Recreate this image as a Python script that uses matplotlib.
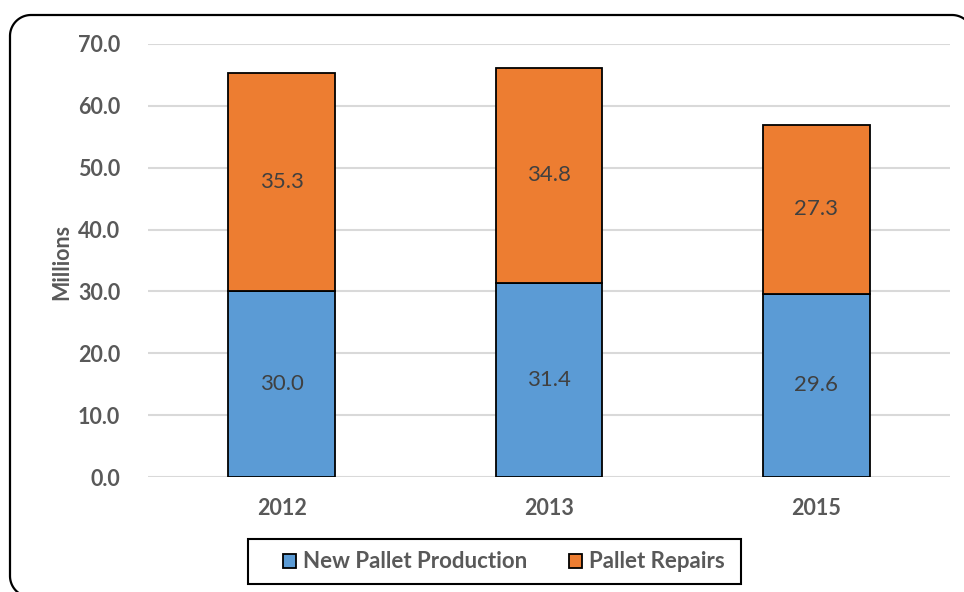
import matplotlib
matplotlib.use("Agg")
import matplotlib.pyplot as plt
from matplotlib.patches import Patch, Rectangle
from matplotlib.lines import Line2D
import numpy as np

years = ["2012", "2013", "2015"]
new_production = [30.0, 31.4, 29.6]
repairs = [35.3, 34.8, 27.3]
series_names = ["New Pallet Production", "Pallet Repairs"]

blue = "#5B9BD5"
orange = "#ED7D31"
grey_text = "#595959"

plt.rcParams["font.family"] = ["Lato", "DejaVu Sans"]

W, H = 964, 592
fig = plt.figure(figsize=(W / 100, H / 100), dpi=100)
ax = fig.add_axes([148 / W, 1 - 477 / H, 802 / W, 433 / H])

x = np.arange(len(years))
width = 0.4
ax.bar(x, new_production, width, color=blue, edgecolor="black", linewidth=1.3, zorder=3)
ax.bar(x, repairs, width, bottom=new_production, color=orange, edgecolor="black",
       linewidth=1.3, zorder=3)

for i in range(len(years)):
    ax.text(x[i], new_production[i] / 2, f"{new_production[i]:.1f}", ha="center", va="center",
            fontsize=16, color="#404040", zorder=4)
    ax.text(x[i], new_production[i] + repairs[i] / 2, f"{repairs[i]:.1f}", ha="center",
            va="center", fontsize=16, color="#404040", zorder=4)

ax.set_xlim(-0.5, 2.5)
ax.set_ylim(0, 70)
ax.set_yticks(np.arange(0, 71, 10))
ax.set_yticklabels([f"{v:.1f}" for v in np.arange(0, 71, 10)])
ax.set_xticks(x)
ax.set_xticklabels(years)
ax.grid(axis="y", color="#D9D9D9", linewidth=1.5, zorder=0)
for s in ax.spines.values():
    s.set_visible(False)
ax.tick_params(length=0, labelsize=15.5, labelcolor=grey_text)
ax.tick_params(axis="y", pad=20)
ax.tick_params(axis="x", pad=15)
for lab in ax.get_xticklabels() + ax.get_yticklabels():
    lab.set_fontweight("bold")

fig.text(62 / W, 1 - 262 / H, "Millions", rotation=90, ha="center", va="center",
         fontsize=15.5, fontweight="bold", color=grey_text)

# legend entries without frame, box drawn separately so the padding can be wide
handles = [Patch(facecolor=blue, edgecolor="black", linewidth=1.3),
           Patch(facecolor=orange, edgecolor="black", linewidth=1.3)]
leg = fig.legend(handles, series_names, loc="center left", bbox_to_anchor=(283 / W, 1 - 562 / H),
                 ncol=2, frameon=False, prop={"size": 16, "weight": "bold"},
                 handlelength=0.58, handleheight=0.58, handletextpad=0.3, columnspacing=1.9,
                 borderpad=0, borderaxespad=0)
for t in leg.get_texts():
    t.set_color(grey_text)
fig.add_artist(Rectangle((248 / W, 1 - 584 / H), 493 / W, 45 / H, transform=fig.transFigure,
                         facecolor="none", edgecolor="black", linewidth=1.5))

# rounded outer frame (pixel units, y measured from the top); the right and
# bottom sides fall outside the canvas so only left/top and two corners show
left, top, right, bottom, r = 10, 15, 973, 597, 21
t = np.linspace(0, np.pi / 2, 30)
px = np.concatenate([left + r - r * np.cos(t)[::-1],
                     left + r - r * np.cos(t),
                     right - r + r * np.sin(t)])
py = np.concatenate([bottom - r + r * np.sin(t)[::-1],
                     top + r - r * np.sin(t),
                     top + r - r * np.cos(t)])
fig.add_artist(Line2D(px / W, 1 - py / H, color="black", linewidth=1.6,
                      transform=fig.transFigure, clip_on=False))

fig.savefig("out.png", dpi=100)
